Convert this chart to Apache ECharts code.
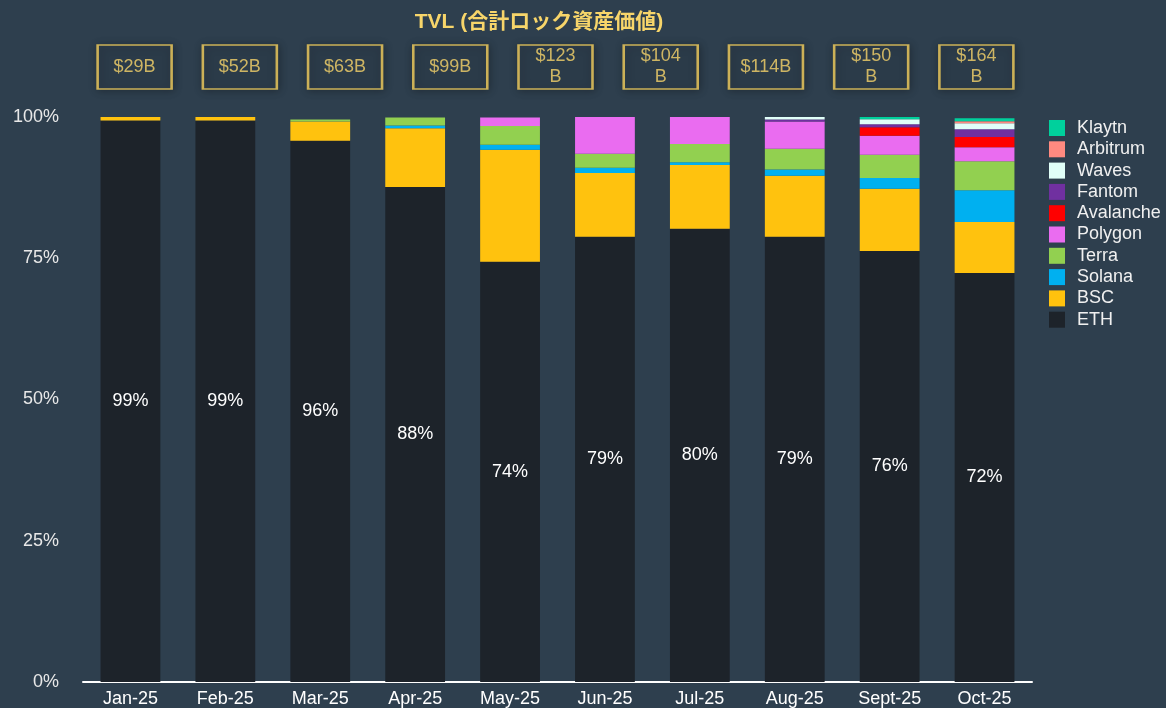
<!DOCTYPE html>
<html>
<head>
<meta charset="utf-8">
<script src="https://cdn.jsdelivr.net/npm/echarts@6/dist/echarts.min.js"></script>
<style>
  html, body { margin: 0; padding: 0; background: #2e3f4e; }
  #chart { width: 1166px; height: 708px; }
</style>
</head>
<body>
<div id="chart"></div>
<script>
const months = ['Jan-25','Feb-25','Mar-25','Apr-25','May-25','Jun-25','Jul-25','Aug-25','Sept-25','Oct-25'];
const tvlLabels = ['$29B','$52B','$63B','$99B','$123\nB','$104\nB','$114B','$150\nB','$164\nB'];
const yTicks = [0, 25, 50, 75, 100];

const eth       = [99.4, 99.4, 95.8, 87.6, 74.4, 78.8, 80.2, 78.8, 76.3, 72.4];
const bsc       = [0.6, 0.6, 3.4, 10.4, 19.8, 11.3, 11.3, 10.8, 11.0, 9.0];
const solana    = [0, 0, 0, 0.5, 0.9, 0.9, 0.5, 1.1, 1.9, 5.65];
const terra     = [0, 0, 0.35, 1.4, 3.3, 2.5, 3.2, 3.7, 4.1, 5.1];
const polygon   = [0, 0, 0, 0, 1.5, 6.5, 4.8, 4.8, 3.4, 2.5];
const avalanche = [0, 0, 0, 0, 0, 0, 0, 0, 1.5, 1.8];
const fantom    = [0, 0, 0, 0, 0, 0, 0, 0.35, 0.5, 1.4];
const waves     = [0, 0, 0, 0, 0, 0, 0, 0.5, 0.9, 1.06];
const arbitrum  = [0, 0, 0, 0, 0, 0, 0, 0, 0, 0.35];
const klaytn    = [0, 0, 0, 0, 0, 0, 0, 0, 0.5, 0.5];

const seriesDefs = [
  ['ETH', eth, '#1d232a'],
  ['BSC', bsc, '#ffc20e'],
  ['Solana', solana, '#00b0f0'],
  ['Terra', terra, '#92d050'],
  ['Polygon', polygon, '#ea6cf0'],
  ['Avalanche', avalanche, '#ff0000'],
  ['Fantom', fantom, '#7030a0'],
  ['Waves', waves, '#e0fff8'],
  ['Arbitrum', arbitrum, '#ff8a80'],
  ['Klaytn', klaytn, '#00d09c']
];

const FONT = '"Liberation Sans", Arial, "Noto Sans CJK JP", sans-serif';
const YELLOW = '#f5cf5c';
const TEXT_YELLOW = '#f7d56a';

const barSeries = seriesDefs.map(([name, data, color]) => ({
  name, type: 'bar', stack: 'share', data,
  xAxisIndex: 0, yAxisIndex: 0,
  barWidth: '63%',
  itemStyle: { color },
  emphasis: { disabled: true },
  label: name === 'ETH' ? {
    show: true, position: 'inside', color: '#ffffff', fontSize: 18, fontFamily: FONT,
    formatter: p => Math.round(p.value) + '%'
  } : { show: false }
}));

const chart = echarts.init(document.getElementById('chart'), null, { renderer: 'canvas' });
chart.setOption({
  backgroundColor: '#2e3f4e',
  animation: false,
  title: {
    text: 'TVL (合計ロック資産価値)',
    left: 534, textAlign: 'center', top: 7,
    textStyle: { color: TEXT_YELLOW, fontSize: 21, fontWeight: 'bold', fontFamily: FONT }
  },
  legend: {
    orient: 'vertical', left: 1049, top: 119, padding: 0,
    itemWidth: 16, itemHeight: 16, itemGap: 3.3, icon: 'rect',
    data: ['Klaytn','Arbitrum','Waves','Fantom','Avalanche','Polygon','Terra','Solana','BSC','ETH'],
    textStyle: { color: '#f0f0f0', fontSize: 18, fontFamily: FONT, padding: [0, 0, 0, 7] },
    selectedMode: false
  },
  grid: [
    { left: 83, right: 134, top: 117, bottom: 25 },
    { left: 82, right: 137, top: 45, height: 44 }
  ],
  xAxis: [
    {
      type: 'category', data: months, gridIndex: 0,
      axisLine: { show: true, lineStyle: { color: '#ffffff', width: 2 } },
      axisTick: { show: false },
      axisLabel: { color: '#ffffff', fontSize: 18, fontFamily: FONT, margin: 8 }
    },
    {
      type: 'category', data: tvlLabels, gridIndex: 1,
      axisLine: { show: false }, axisTick: { show: false }, axisLabel: { show: false }
    }
  ],
  yAxis: [
    {
      type: 'value', gridIndex: 0, min: yTicks[0], max: yTicks[yTicks.length - 1], interval: 25,
      axisLine: { show: false }, axisTick: { show: false }, splitLine: { show: false },
      axisLabel: { color: '#e8e8e8', fontSize: 18, fontFamily: FONT, margin: 24, formatter: '{value}%' }
    },
    {
      type: 'category', gridIndex: 1, data: ['TVL'],
      axisLine: { show: false }, axisTick: { show: false }, axisLabel: { show: false }
    }
  ],
  series: barSeries.concat([{
    name: 'TVL', type: 'scatter', xAxisIndex: 1, yAxisIndex: 1,
    data: tvlLabels.map(l => [l, 'TVL']),
    symbol: 'rect', symbolSize: [74, 44],
    itemStyle: {
      color: '#2e3f4e', borderColor: YELLOW, borderWidth: 2,
      shadowBlur: 8, shadowColor: 'rgba(0,0,0,0.35)', shadowOffsetX: 1, shadowOffsetY: 1
    },
    emphasis: { disabled: true },
    label: {
      show: true, position: 'inside', color: TEXT_YELLOW, fontSize: 18, lineHeight: 21, fontFamily: FONT,
      formatter: p => p.value[0]
    },
    z: 5
  }])
});
</script>
</body>
</html>
